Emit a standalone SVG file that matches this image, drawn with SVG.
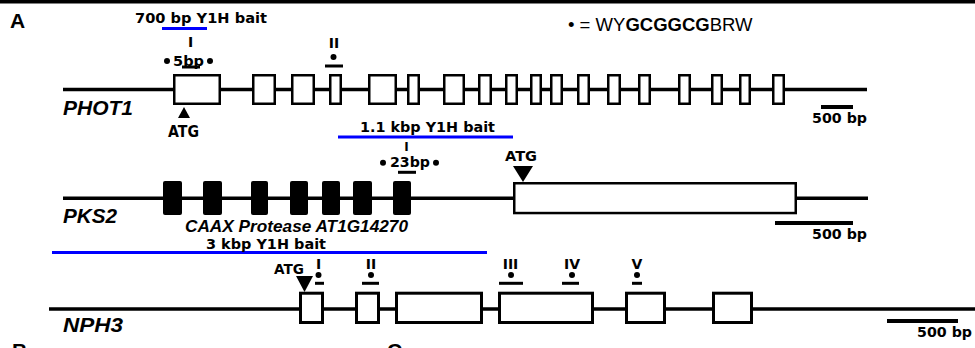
<svg xmlns="http://www.w3.org/2000/svg" width="975" height="348" viewBox="0 0 975 348">
<style>
.ex{fill:#fff;stroke:#000;stroke-width:2.5}
.ex3{fill:#fff;stroke:#000;stroke-width:3}
.bx{fill:#000}
.ln{stroke:#000;stroke-width:3.5;fill:none}
.blue{stroke:#0000ff;stroke-width:3}
.bar{stroke:#000;stroke-width:3}
.sb{stroke:#000;stroke-width:4}
.t{font-family:"DejaVu Sans",Verdana,sans-serif;font-weight:bold;fill:#000}
.gi{font-family:"Liberation Sans",Arial,sans-serif;font-weight:bold;font-style:italic;fill:#000}
.pl{font-family:"Liberation Sans",Arial,sans-serif;font-weight:bold;fill:#000}
.lg{font-family:"Liberation Sans",Arial,sans-serif;font-size:18.5px;fill:#000}
.mid{text-anchor:middle}
</style>
<rect x="0" y="0" width="975" height="3.5" fill="#000"/>
<text class="pl" x="10" y="28" font-size="21">A</text>
<g id="legend">
<text class="lg" x="568" y="31">• = WY<tspan font-weight="bold">GCGGCG</tspan>BRW</text>
</g>
<g id="phot1">
<line class="ln" x1="63" y1="89.5" x2="867" y2="89.5"/>
<rect class="ex" x="174.25" y="75.25" width="45.5" height="28.5"/>
<rect class="ex" x="253.25" y="75.25" width="21.5" height="28.5"/>
<rect class="ex" x="292.25" y="75.25" width="21.5" height="28.5"/>
<rect class="ex" x="330.25" y="75.25" width="10.5" height="28.5"/>
<rect class="ex" x="369.25" y="75.25" width="26.5" height="28.5"/>
<rect class="ex" x="408.25" y="75.25" width="10.5" height="28.5"/>
<rect class="ex" x="444.25" y="75.25" width="19.5" height="28.5"/>
<rect class="ex" x="479.25" y="75.25" width="11.5" height="28.5"/>
<rect class="ex" x="506.25" y="75.25" width="10.5" height="28.5"/>
<rect class="ex" x="531.25" y="75.25" width="9.5" height="28.5"/>
<rect class="ex" x="551.25" y="75.25" width="10.5" height="28.5"/>
<rect class="ex" x="578.25" y="75.25" width="10.5" height="28.5"/>
<rect class="ex" x="608.25" y="75.25" width="11.5" height="28.5"/>
<rect class="ex" x="639.25" y="75.25" width="10.5" height="28.5"/>
<rect class="ex" x="679.25" y="75.25" width="10.5" height="28.5"/>
<rect class="ex" x="712.25" y="75.25" width="9.5" height="28.5"/>
<rect class="ex" x="740.25" y="75.25" width="9.5" height="28.5"/>
<rect class="ex" x="773.25" y="75.25" width="10.5" height="28.5"/>
<text class="gi" x="63" y="115" font-size="21" textLength="70" lengthAdjust="spacingAndGlyphs">PHOT1</text>
<polygon points="184,107 190,118 178,118" fill="#000"/>
<text class="t" x="168" y="136.5" font-size="16" textLength="31" lengthAdjust="spacingAndGlyphs">ATG</text>
<line class="blue" x1="162" y1="28.5" x2="207" y2="28.5"/>
<text class="t" x="135" y="23" font-size="14.5" textLength="132" lengthAdjust="spacingAndGlyphs">700 bp Y1H bait</text>
<text class="t mid" x="190.5" y="47" font-size="14">I</text>
<circle cx="167" cy="61" r="3"/>
<text class="t" x="173" y="65.5" font-size="14" textLength="31" lengthAdjust="spacingAndGlyphs">5bp</text>
<circle cx="210" cy="61" r="3"/>
<line class="bar" x1="182" y1="67" x2="200" y2="67"/>
<text class="t mid" x="334" y="48" font-size="14">II</text>
<circle cx="333.5" cy="57" r="3"/>
<line class="bar" x1="325" y1="66" x2="343" y2="66"/>
<line class="sb" x1="821" y1="107" x2="853" y2="107"/>
<text class="t" x="812" y="122.5" font-size="14.5" textLength="55" lengthAdjust="spacingAndGlyphs">500 bp</text>
</g>
<g id="pks2">
<line class="ln" x1="63" y1="198.3" x2="868" y2="198.3"/>
<rect class="bx" x="163" y="181" width="19" height="34" rx="2"/>
<rect class="bx" x="203" y="181" width="19" height="34" rx="2"/>
<rect class="bx" x="251" y="181" width="17" height="34" rx="2"/>
<rect class="bx" x="290" y="181" width="18" height="34" rx="2"/>
<rect class="bx" x="322" y="181" width="18" height="34" rx="2"/>
<rect class="bx" x="353" y="181" width="19" height="34" rx="2"/>
<rect class="bx" x="393" y="181" width="18" height="34" rx="2"/>
<rect class="ex" x="514.25" y="183.25" width="281.5" height="29.8"/>
<polygon points="513,166 533,166 523,182" fill="#000"/>
<text class="t" x="505" y="161" font-size="14.5" textLength="32" lengthAdjust="spacingAndGlyphs">ATG</text>
<line class="blue" x1="338" y1="137" x2="513" y2="137"/>
<text class="t" x="360" y="132" font-size="14.5" textLength="135" lengthAdjust="spacingAndGlyphs">1.1 kbp Y1H bait</text>
<text class="t mid" x="406.5" y="150.5" font-size="12">I</text>
<circle cx="383" cy="162.7" r="3"/>
<text class="t" x="390" y="167" font-size="14" textLength="40" lengthAdjust="spacingAndGlyphs">23bp</text>
<circle cx="436" cy="162.7" r="3"/>
<line class="bar" x1="398" y1="172.3" x2="416" y2="172.3"/>
<text class="gi" x="63" y="222.5" font-size="21" textLength="54" lengthAdjust="spacingAndGlyphs">PKS2</text>
<text class="gi" x="185" y="232" font-size="17" textLength="223" lengthAdjust="spacingAndGlyphs">CAAX Protease AT1G14270</text>
<line class="sb" x1="775" y1="223" x2="853" y2="223"/>
<text class="t" x="812" y="238.5" font-size="14.5" textLength="55" lengthAdjust="spacingAndGlyphs">500 bp</text>
</g>
<g id="nph3">
<line class="blue" x1="52" y1="252.5" x2="487" y2="252.5"/>
<text class="t" x="206" y="249" font-size="14.5" textLength="120" lengthAdjust="spacingAndGlyphs">3 kbp Y1H bait</text>
<line class="ln" x1="49" y1="309" x2="975" y2="309"/>
<rect class="ex3" x="300.5" y="293.2" width="22" height="29.3"/>
<rect class="ex3" x="356.5" y="293.2" width="22" height="29.3"/>
<rect class="ex3" x="396.5" y="293.2" width="85" height="29.3"/>
<rect class="ex3" x="499.5" y="293.2" width="93" height="29.3"/>
<rect class="ex3" x="626.5" y="293.2" width="38" height="29.3"/>
<rect class="ex3" x="713.5" y="293.2" width="38" height="29.3"/>
<polygon points="296,276 313,276 304.5,292" fill="#000"/>
<text class="t" x="274" y="273.5" font-size="14" textLength="30" lengthAdjust="spacingAndGlyphs">ATG</text>
<text class="t mid" x="318.5" y="268.5" font-size="14">I</text>
<circle cx="318.5" cy="275" r="3"/>
<line class="bar" x1="315" y1="283.3" x2="324" y2="283.3"/>
<text class="t mid" x="371" y="269" font-size="14">II</text>
<circle cx="371" cy="275" r="3"/>
<line class="bar" x1="362" y1="283.3" x2="379" y2="283.3"/>
<text class="t mid" x="510.5" y="269" font-size="14">III</text>
<circle cx="511" cy="275" r="3"/>
<line class="bar" x1="499" y1="283.3" x2="523" y2="283.3"/>
<text class="t mid" x="572" y="269" font-size="14">IV</text>
<circle cx="572" cy="275" r="3"/>
<line class="bar" x1="562" y1="283.3" x2="579" y2="283.3"/>
<text class="t mid" x="637" y="269" font-size="14">V</text>
<circle cx="637" cy="275" r="3"/>
<line class="bar" x1="632" y1="283.3" x2="642" y2="283.3"/>
<text class="gi" x="63" y="332" font-size="21" textLength="60" lengthAdjust="spacingAndGlyphs">NPH3</text>
<line class="sb" x1="887" y1="321" x2="958" y2="321"/>
<text class="t" x="917" y="337" font-size="14.5" textLength="55" lengthAdjust="spacingAndGlyphs">500 bp</text>
</g>
<text class="pl" x="12" y="358" font-size="21">B</text>
<text class="pl" x="387" y="358" font-size="21">C</text>
</svg>
